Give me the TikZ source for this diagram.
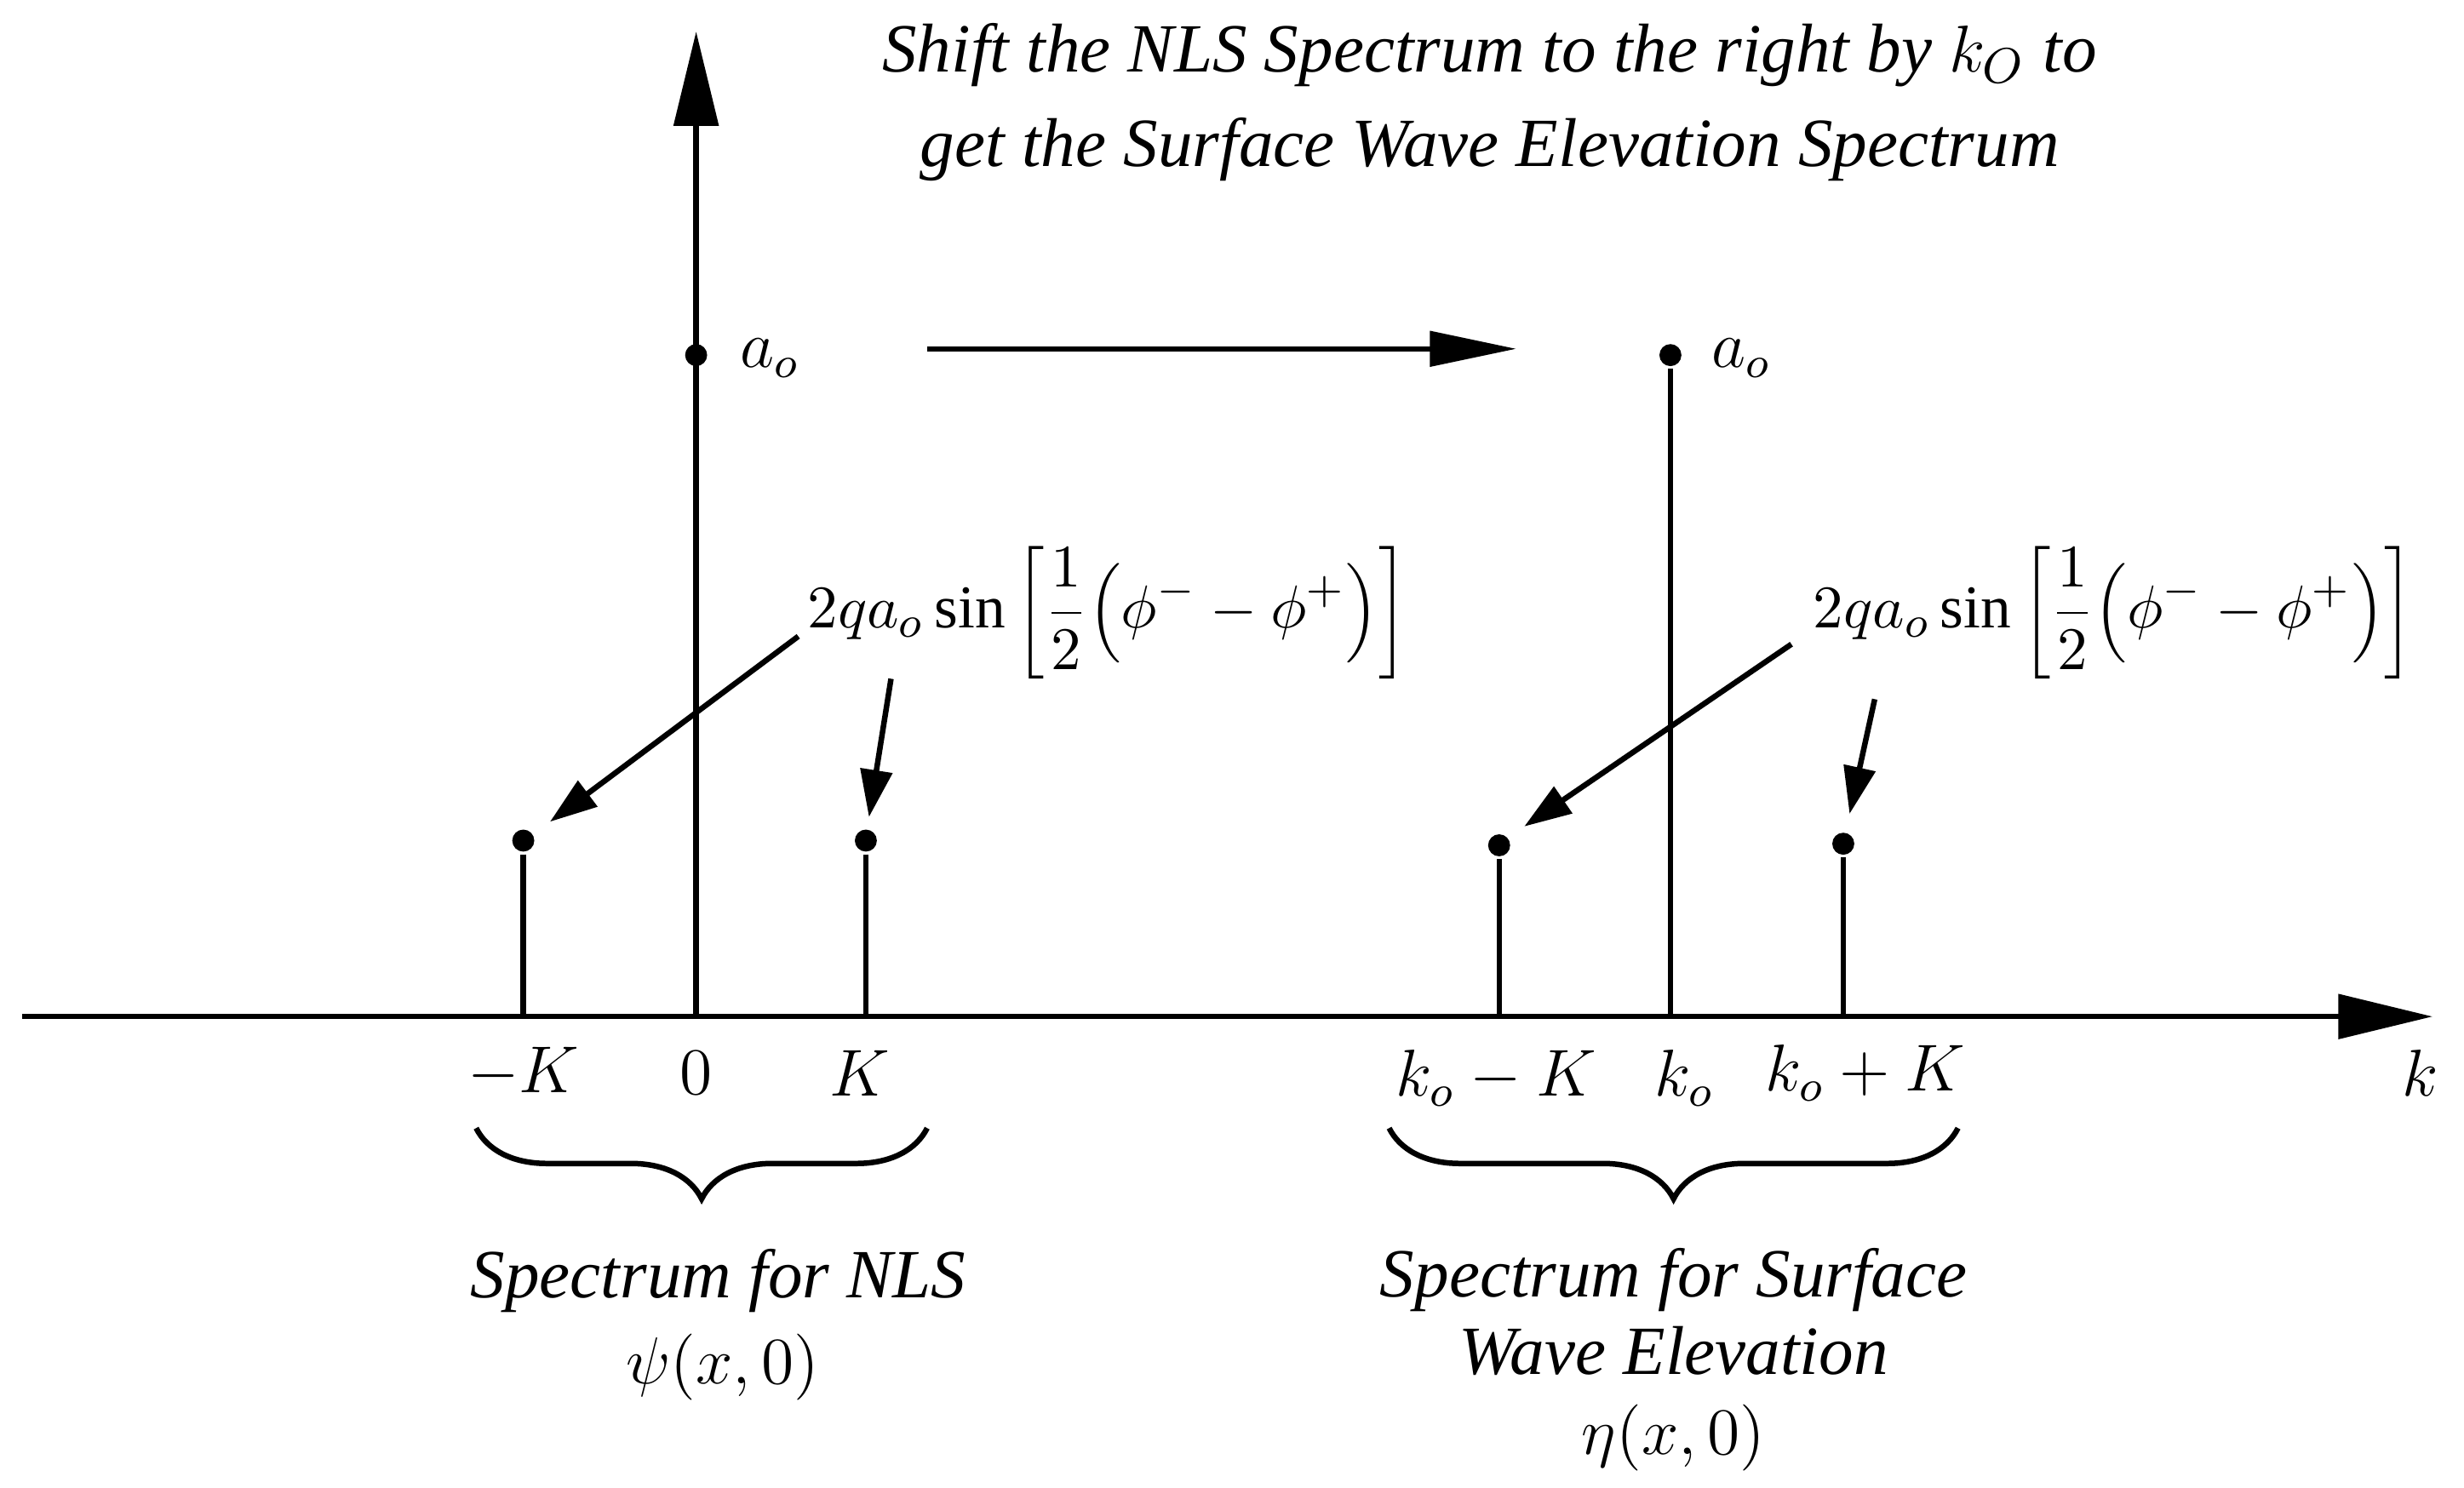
\documentclass[tikz,border=0pt]{standalone}
\usepackage{fontspec}
\setmainfont{Liberation Serif}
\usetikzlibrary{arrows.meta,decorations.pathreplacing}
\begin{document}
\begin{tikzpicture}[x=0.01cm,y=-0.01cm,line width=1pt,
  dot/.style={circle,fill=black,inner sep=0pt,minimum size=0.14cm},
  big/.style={-{Triangle[length=0.6cm,width=0.28cm]}},
  small/.style={-{Triangle[length=0.3cm,width=0.2cm]}},
  lab/.style={font=\fontsize{12}{14}\selectfont},
  frm/.style={font=\fontsize{11}{13}\selectfont},
  txt/.style={font=\fontsize{12.5}{15}\selectfont\itshape}]
\useasboundingbox (0,0) rectangle (1568,947);
\coordinate (xl) at (14,647); \coordinate (xr) at (1548,647);
\coordinate (o) at (443,647); \coordinate (yt) at (443,20);
\draw[big] (xl) -- (xr);
\draw[big] (o) -- (yt);
\node[dot] (a0) at (443,226) {};
\node[dot] (mK) at (333,535) {}; \coordinate (mKb) at (333,647);
\node[dot] (pK) at (551,535) {}; \coordinate (pKb) at (551,647);
\node[dot] (ak) at (1063,226) {}; \coordinate (akb) at (1063,647);
\node[dot] (rm) at (954,538) {}; \coordinate (rmb) at (954,647);
\node[dot] (rp) at (1173,537) {}; \coordinate (rpb) at (1173,647);
\draw (mK)--(mKb); \draw (pK)--(pKb); \draw (ak)--(akb); \draw (rm)--(rmb); \draw (rp)--(rpb);
\node[lab] (la1) at (490,228) {$a_o$};
\node[lab] (la2) at (1108,228) {$a_o$};
\coordinate (hs) at (590,222); \coordinate (he) at (965,222);
\draw[-{Triangle[length=0.55cm,width=0.22cm]}] (hs) -- (he);
\node[frm] (f1) at (705,390) {$2qa_o\sin\left[\displaystyle\frac{1}{2}\Bigl(\phi^{-}-\phi^{+}\Bigr)\right]$};
\node[frm] (f2) at (1345,390) {$2qa_o\sin\left[\displaystyle\frac{1}{2}\Bigl(\phi^{-}-\phi^{+}\Bigr)\right]$};
\coordinate (s1) at (508,405); \coordinate (s2) at (567,432);
\coordinate (s3) at (1140,410); \coordinate (s4) at (1193,445);
\coordinate (e1) at (350,523); \coordinate (e2) at (553,520);
\coordinate (e3) at (970,526); \coordinate (e4) at (1177,518);
\draw[small] (s1) -- (e1);
\draw[small] (s2) -- (e2);
\draw[small] (s3) -- (e3);
\draw[small] (s4) -- (e4);
\node[lab] (t1) at (333,683) {$-K$};
\node[lab] (t2) at (443,683) {$0$};
\node[lab] (t3) at (547,683) {$K$};
\node[lab] (t4) at (952,686) {$k_o-K$};
\node[lab] (t5) at (1072,686) {$k_o$};
\node[lab] (t6) at (1187,683) {$k_o+K$};
\node[lab] (t7) at (1540,683) {$k$};
\coordinate (b1) at (303,718); \coordinate (b2) at (590,718);
\coordinate (b3) at (884,718); \coordinate (b4) at (1246,718);
\draw[decorate,decoration={brace,mirror,amplitude=0.45cm}] (b1) -- (b2);
\draw[decorate,decoration={brace,mirror,amplitude=0.45cm}] (b3) -- (b4);
\node[txt] (n1) at (457,815) {Spectrum for NLS};
\node[lab] (n2) at (460,870) {$\psi(x,0)$};
\node[txt,align=center] (n3) at (1065,835) {Spectrum for Surface\\[-1pt]Wave Elevation};
\node[lab] (n4) at (1065,915) {$\eta(x,0)$};
\node[txt,align=center] (ti) at (948,65) {Shift the NLS Spectrum to the right by $k_O$ to\\[2pt]get the Surface Wave Elevation Spectrum};
\end{tikzpicture}
\end{document}
